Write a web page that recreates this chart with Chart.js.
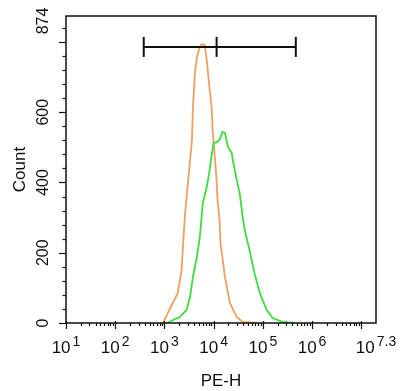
<!DOCTYPE html>
<html>
<head>
<meta charset="utf-8">
<script src="https://cdn.jsdelivr.net/npm/chart.js@4/dist/chart.umd.min.js"></script>
<style>
  html, body { margin: 0; padding: 0; background: #fff; }
  #wrap { width: 400px; height: 391px; }
</style>
</head>
<body>
<div id="wrap"><canvas id="chart" width="400" height="391"></canvas></div>
<script>
// PE-H values and counts
const orangePE = [933, 1480, 1860, 2240, 2340, 2570, 2820, 3090, 3630, 3800, 4170, 4570, 5250, 5750, 6610, 7240, 8320, 9120, 9550, 10500, 11500, 12000, 13200, 13800, 17000, 21400, 29500, 38900, 74100];
const orangeCount = [0, 57, 85, 151, 199, 293, 359, 416, 521, 615, 712, 757, 786, 794, 791, 749, 663, 615, 549, 478, 407, 350, 293, 228, 131, 57, 17, 3, 0];

const greenPE = [1120, 2040, 2820, 3310, 3800, 4570, 5250, 6030, 7240, 8320, 9120, 10000, 11500, 13200, 15100, 17000, 19500, 23400, 24500, 29500, 33900, 38900, 42700, 53700, 67600, 87100, 120000, 158000, 251000, 447000];
const greenCount = [0, 17, 37, 74, 131, 188, 245, 342, 387, 436, 478, 512, 515, 521, 544, 541, 501, 484, 464, 407, 370, 302, 265, 208, 142, 85, 37, 14, 3, 0];

// gate marker on top
const gatePE = [380, 11500, 468000];
const gateCount = [786, 786, 786];

// axis ticks
const xTickValues = [10, 100, 1000, 10000, 100000, 1000000, 19952623];
const xTickExp = ['1', '2', '3', '4', '5', '6', '7.3'];
const yTickValues = [0, 200, 400, 600, 874];
const yMajor = [0, 200, 400, 600, 800];
const yMinorStep = 40;

const X_MIN = 10, X_MAX = 19952623, Y_MAX = 874;

const toPoints = (xs, ys) => xs.map((x, i) => ({ x, y: ys[i] }));

const axesPlugin = {
    id: 'axesPlugin',
    afterDatasetsDraw(chart) {
        const { ctx, chartArea: a, scales } = chart;
        const xs = scales.x, ys = scales.y;
        ctx.save();
        ctx.strokeStyle = '#111';
        ctx.lineWidth = 1.5;
        ctx.strokeRect(a.left, a.top, a.right - a.left, a.bottom - a.top);

        ctx.lineWidth = 1.2;
        // y ticks
        for (let v = 0; v <= Y_MAX; v += yMinorStep) {
            const py = Math.round(ys.getPixelForValue(v)) + 0.5;
            const len = yMajor.includes(v) ? 7 : 3.5;
            ctx.beginPath();
            ctx.moveTo(a.left - len, py);
            ctx.lineTo(a.left, py);
            ctx.stroke();
        }
        // x ticks
        for (let d = 1; d <= 7; d++) {
            for (let k = 1; k <= 9; k++) {
                const v = k * Math.pow(10, d);
                if (v > X_MAX) break;
                const px = Math.round(xs.getPixelForValue(v)) + 0.5;
                const len = k === 1 ? 6 : 3;
                ctx.beginPath();
                ctx.moveTo(px, a.bottom - (k === 1 ? 2 : 0));
                ctx.lineTo(px, a.bottom + len);
                ctx.stroke();
            }
        }

        ctx.fillStyle = '#111';
        // y labels, rotated
        ctx.font = '16px "Liberation Sans", Arial, sans-serif';
        ctx.textAlign = 'center';
        ctx.textBaseline = 'middle';
        yTickValues.forEach(v => {
            let py = ys.getPixelForValue(v);
            if (v === Y_MAX) py += 5;
            ctx.save();
            ctx.translate(44, py);
            ctx.rotate(-Math.PI / 2);
            ctx.fillText(String(v), 0, 0);
            ctx.restore();
        });

        // x labels 10^n
        ctx.textBaseline = 'alphabetic';
        ctx.textAlign = 'left';
        xTickValues.forEach((v, i) => {
            const px = xs.getPixelForValue(v);
            ctx.font = '17px "Liberation Sans", Arial, sans-serif';
            const wb = ctx.measureText('10').width;
            ctx.font = '14px "Liberation Sans", Arial, sans-serif';
            const we = ctx.measureText(xTickExp[i]).width;
            const x0 = px - (wb + 2 + we) / 2;
            ctx.font = '17px "Liberation Sans", Arial, sans-serif';
            ctx.fillText('10', x0, 353);
            ctx.font = '14px "Liberation Sans", Arial, sans-serif';
            ctx.fillText(xTickExp[i], x0 + wb + 2, 346);
        });

        // axis titles
        ctx.font = '17px "Liberation Sans", Arial, sans-serif';
        ctx.textAlign = 'center';
        ctx.textBaseline = 'middle';
        ctx.fillText('PE-H', (a.left + a.right) / 2, 381);
        ctx.save();
        ctx.translate(20, (a.top + a.bottom) / 2);
        ctx.rotate(-Math.PI / 2);
        ctx.fillText('Count', 0, 0);
        ctx.restore();
        ctx.restore();
    }
};

const config = {
    type: 'line',
    data: {
        datasets: [
            {
                label: 'gate',
                data: toPoints(gatePE, gateCount),
                borderColor: '#111',
                borderWidth: 2,
                pointStyle: 'line',
                pointRotation: 90,
                pointRadius: 10,
                pointBorderWidth: 2,
                pointBorderColor: '#111',
            },
            {
                label: 'green',
                data: toPoints(greenPE, greenCount),
                borderColor: '#3ddc3d',
                borderWidth: 1.8,
                pointRadius: 0,
                tension: 0,
            },
            {
                label: 'orange',
                data: toPoints(orangePE, orangeCount),
                borderColor: '#f0a060',
                borderWidth: 1.8,
                pointRadius: 0,
                tension: 0,
            },
        ],
    },
    options: {
        responsive: false,
        animation: false,
        maintainAspectRatio: false,
        layout: { padding: { left: 66, right: 24, top: 16, bottom: 68 } },
        plugins: {
            legend: { display: false },
            tooltip: { enabled: false },
        },
        scales: {
            x: { type: 'logarithmic', min: X_MIN, max: X_MAX, display: false },
            y: { type: 'linear', min: 0, max: Y_MAX, display: false },
        },
    },
    plugins: [axesPlugin],
};

new Chart(document.getElementById('chart').getContext('2d'), config);
</script>
</body>
</html>
